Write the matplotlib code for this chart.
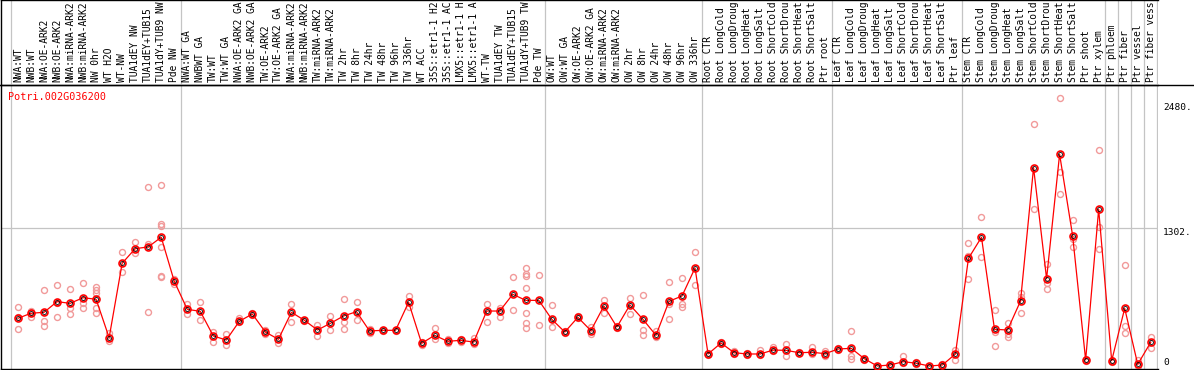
import matplotlib
matplotlib.use('Agg')
import matplotlib.pyplot as plt
from matplotlib.lines import Line2D

# sample labels (header), in plot order, as shown (cut to 14 characters)
labels = [
    'NWA:WT', 'NWB:WT', 'NWA:OE-ARK2', 'NWB:OE-ARK2', 'NWA:miRNA-ARK2', 'NWB:miRNA-ARK2',
    'NW 0hr', 'WT H2O', 'WT-NW', 'TUA1dEY NW', 'TUA1dEY+TUB15', 'TUA1dY+TUB9 NW', 'Pde NW',
    'NWA:WT GA', 'NWBWT GA', 'TW:WT', 'TW:WT GA', 'NWA:OE-ARK2 GA', 'NWB:OE-ARK2 GA',
    'TW:OE-ARK2', 'TW:OE-ARK2 GA', 'NWA:miRNA-ARK2', 'NWB:miRNA-ARK2', 'TW:miRNA-ARK2',
    'TW:miRNA-ARK2', 'TW 2hr', 'TW 8hr', 'TW 24hr', 'TW 48hr', 'TW 96hr', 'TW 336hr',
    'WT ACC', '35S::etr1-1 H2', '35S::etr1-1 AC', 'LMX5::etr1-1 H', 'LMX5::etr1-1 A',
    'WT-TW', 'TUA1dEY TW', 'TUA1dEY+TUB15', 'TUA1dY+TUB9 TW', 'Pde TW',
    'OW:WT', 'OW:WT GA', 'OW:OE-ARK2', 'OW:OE-ARK2 GA', 'OW:miRNA-ARK2', 'OW:miRNA-ARK2',
    'OW 2hr', 'OW 8hr', 'OW 24hr', 'OW 48hr', 'OW 96hr', 'OW 336hr',
    'Root CTR', 'Root LongCold', 'Root LongDroug', 'Root LongHeat', 'Root LongSalt',
    'Root ShortCold', 'Root ShortDrou', 'Root ShortHeat', 'Root ShortSalt', 'Ptr root',
    'Leaf CTR', 'Leaf LongCold', 'Leaf LongDroug', 'Leaf LongHeat', 'Leaf LongSalt',
    'Leaf ShortCold', 'Leaf ShortDrou', 'Leaf ShortHeat', 'Leaf ShortSalt', 'Ptr leaf',
    'Stem CTR', 'Stem LongCold', 'Stem LongDroug', 'Stem LongHeat', 'Stem LongSalt',
    'Stem ShortCold', 'Stem ShortDrou', 'Stem ShortHeat', 'Stem ShortSalt', 'Ptr shoot',
    'Ptr xylem', 'Ptr phloem', 'Ptr fiber', 'Ptr vessel', 'Ptr fiber vess',
]

means = [
    458, 505, 514, 614, 598, 651, 636, 276, 974, 1111, 1127, 1218, 805,
    542, 523, 292, 254, 430, 498, 329, 261, 514, 439, 348, 411, 479, 520, 339,
    345, 345, 608, 223, 298, 242, 251, 235, 526, 526, 683, 626, 626,
    448, 329, 467, 342, 573, 376, 583, 448, 298, 617, 667, 930,
    123, 226, 135, 123, 123, 160, 157, 135, 139, 126,
    170, 176, 79, 10, 20, 51, 36, 10, 20, 123,
    1020, 1218, 355, 348, 620, 1871, 829, 1996, 1233, 67,
    1480, 60, 551, 26, 233,
]

reps = [
    [561, 355, 470], [473, 520, 530], [723, 435, 388], [770, 467, 605], [730, 498, 551],
    [786, 557, 598], [754, 723, 692, 551, 505, 640], [323, 248], [1077, 889], [1174, 1067],
    [1687, 1152, 520], [1705, 1342, 1324, 1124, 855, 842], [826, 777],
    [592, 498], [608, 439], [332, 238], [311, 207], [458, 420], [510, 490], [308, 345],
    [301, 229], [592, 426], [430, 445], [395, 295], [479, 345], [639, 426, 357], [608, 439],
    [360, 320], [345, 335], [350, 340], [667, 561], [240, 205], [364, 261], [260, 230],
    [265, 240], [276, 220], [592, 426], [551, 473], [842, 533],
    [930, 873, 855, 742, 505, 417, 364], [861, 392],
    [583, 379], [320, 340], [460, 475], [379, 311], [629, 510], [385, 365], [651, 498],
    [676, 348, 304], [339, 285], [795, 590, 448], [833, 592, 564], [1077, 770],
    [135, 110], [235, 215], [150, 120], [130, 110], [160, 110], [186, 150], [217, 104],
    [140, 130], [191, 125], [150, 105],
    [180, 160], [336, 104, 73], [85, 70], [15, 5], [10, 25], [104, 35], [45, 25], [15, 5],
    [25, 15], [160, 67],
    [1167, 1045, 829], [1405, 1036], [536, 332, 198], [417, 311, 285], [692, 660, 505],
    [2278, 1480], [967, 786, 730], [2521, 1833, 1621], [1380, 1200, 1129], [75, 60],
    [2034, 1317, 1105], [70, 45], [955, 386, 317], [67, 15], [285, 176],
]

# index of the last sample in each group (-1 = line before the first one)
group_ends = [-1, 12, 40, 52, 62, 72, 83, 84, 85, 86, 87]
right_labels = ['2480.', '1302.', '0']
right_values = [2480, 1302, 0]
grid_value = 1302
title = 'Potri.002G036200'

W, H = 1194, 370
mono = 'DejaVu Sans Mono'


def box(x0, y0, x1, y1):
    return [x0 / W, 1 - y1 / H, (x1 - x0) / W, (y1 - y0) / H]


fig = plt.figure(figsize=(W / 100, H / 100), dpi=100)
ax = fig.add_axes(box(1, 85, 1158, 369))
hd = fig.add_axes(box(1, 0, 1158, 85))

xlim = ((1 - 18) / 13.02, (1158 - 18) / 13.02)
ax.set_xlim(xlim)
hd.set_xlim(xlim)
ax.set_ylim(-17.8, 2646)
hd.set_ylim(0, 1)

sep_color = '#c4c4c4'
for e in group_ends:
    ax.axvline(e + 0.5, color=sep_color, lw=0.9, zorder=1)
    hd.axvline(e + 0.5, color=sep_color, lw=0.9, zorder=1)
ax.axhline(grid_value, color=sep_color, lw=0.9, zorder=1)

x = list(range(len(means)))
for i, r in enumerate(reps):
    ax.plot([i] * len(r), r, linestyle='none', marker='o', ms=4.3, mfc='none',
            mec='#f19a9a', mew=1.0, zorder=2, clip_on=False)

ax.plot(x, means, color='#ff0000', lw=0.9, zorder=3)
ax.plot(x, means, linestyle='none', marker='o', ms=5.0, mfc='none', mec='#ff0000',
        mew=1.2, zorder=4)
ax.plot(x, means, linestyle='none', marker='o', ms=2.8, mfc='none', mec='black',
        mew=0.6, zorder=5)

for i, lab in enumerate(labels):
    hd.text(i, 0.035, lab, rotation=90, ha='center', va='bottom', fontsize=6.9,
            family=mono, color='black')

for lab, v in zip(right_labels, right_values):
    ax.annotate(lab, xy=(1, v), xycoords=('axes fraction', 'data'),
                xytext=(5, 0), textcoords='offset pixels',
                ha='left', va='top' if v > 0 else 'bottom',
                fontsize=6.8, family=mono, color='black', annotation_clip=False)

ax.text(7 / (1158 - 1), 1 - 12 / 284, title, transform=ax.transAxes, ha='left',
        va='center', fontsize=7.3, family=mono, color='#ff0000')

for a in (ax, hd):
    a.set_xticks([])
    a.set_yticks([])
    for s in a.spines.values():
        s.set_linewidth(1.0)
        s.set_color('black')
    a.spines['right'].set_visible(False)
    a.patch.set_alpha(0)
hd.spines['bottom'].set_visible(False)

fig.add_artist(Line2D([0, 1], [1 - 85 / H] * 2, color='black', lw=1.0,
                      transform=fig.transFigure))

fig.savefig('out.png', dpi=100)
